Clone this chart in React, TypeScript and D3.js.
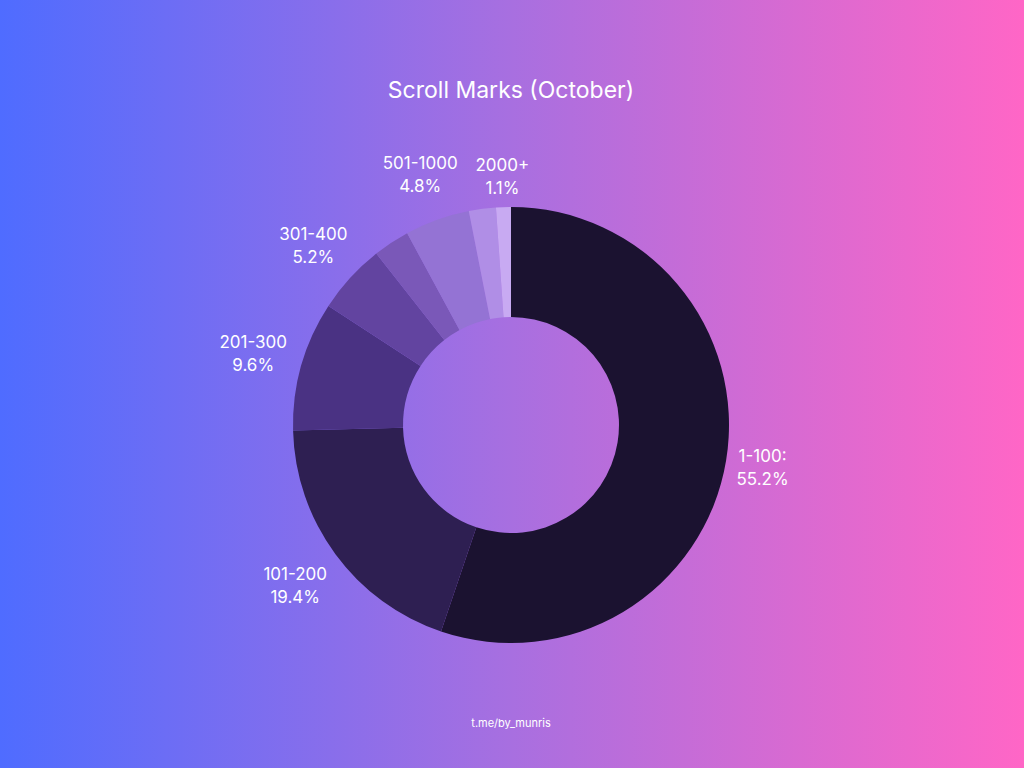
import React from "react";
import * as d3 from "d3";

const categories = ["1-100", "101-200", "201-300", "301-400", "401-500", "501-1000", "1001-2000", "2000+"];
const values = [55.2, 19.4, 9.6, 5.2, 2.7, 4.8, 2.0, 1.1];
const labelled = [true, true, true, true, false, true, false, true];
const labelText = ["1-100:", "101-200", "201-300", "301-400", "", "501-1000", "", "2000+"];
const colors = ["#1b1230", "#2e1f52", "#4a3283", "#6244a0", "#7a58b8", "#9473d4", "#b08ee6", "#c8aaf2"];

export default function App() {
  const W = 1024, H = 768, cx = 511, cy = 425;
  const pie = d3.pie<number>().sort(null).value((d) => d)(values);
  const arc = d3.arc<d3.PieArcDatum<number>>().innerRadius(108).outerRadius(218);
  const font = "Inter, 'Noto Sans', sans-serif";
  return (
    <svg width={W} height={H} style={{ position: "absolute", left: 0, top: 0 }}>
      <defs>
        <linearGradient id="bg" x1="0" x2="1" y1="0" y2="0">
          <stop offset="0" stopColor="#4f6cff" />
          <stop offset="0.5" stopColor="#a86fe0" />
          <stop offset="1" stopColor="#ff66c6" />
        </linearGradient>
      </defs>
      <rect width={W} height={H} fill="url(#bg)" />
      <text x={511} y={98} textAnchor="middle" fill="#fff" fontSize={23} fontFamily={font}>Scroll Marks (October)</text>
      <g transform={`translate(${cx},${cy})`}>
        {pie.map((p, i) => (
          <path key={i} d={arc(p) || ""} fill={colors[i]} />
        ))}
        {pie.map((p, i) => {
          if (!labelled[i]) return null;
          const a = (p.startAngle + p.endAngle) / 2;
          const r = i === 0 ? 255 : i === 7 ? 250 : 268;
          const x = r * Math.sin(a), y = -r * Math.cos(a);
          return (
            <text key={"l" + i} x={x} y={y} textAnchor="middle" fill="#fff" fontSize={17} fontFamily={font}>
              <tspan x={x} dy={-4}>{labelText[i]}</tspan>
              <tspan x={x} dy={23}>{values[i].toFixed(1)}%</tspan>
            </text>
          );
        })}
      </g>
      <text x={511} y={727} textAnchor="middle" fill="#fff" fontSize={11} fontFamily={font}>t.me/by_munris</text>
    </svg>
  );
}
